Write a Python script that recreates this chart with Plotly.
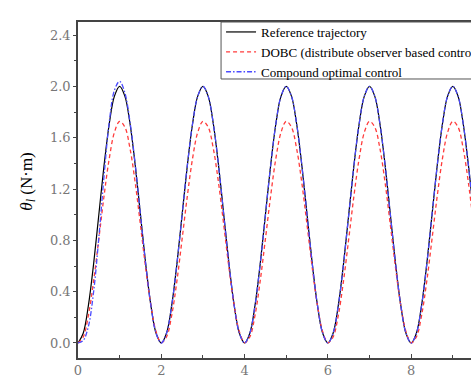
import plotly.graph_objects as go

# time samples (s)
t = [
    0.0, 0.125, 0.25, 0.375, 0.5, 0.625, 0.75, 0.875, 1.0, 1.125, 1.25, 1.375, 1.5, 1.625, 1.75, 1.875,
    2.0, 2.125, 2.25, 2.375, 2.5, 2.625, 2.75, 2.875, 3.0, 3.125, 3.25, 3.375, 3.5, 3.625, 3.75, 3.875,
    4.0, 4.125, 4.25, 4.375, 4.5, 4.625, 4.75, 4.875, 5.0, 5.125, 5.25, 5.375, 5.5, 5.625, 5.75, 5.875,
    6.0, 6.125, 6.25, 6.375, 6.5, 6.625, 6.75, 6.875, 7.0, 7.125, 7.25, 7.375, 7.5, 7.625, 7.75, 7.875,
    8.0, 8.125, 8.25, 8.375, 8.5, 8.625, 8.75, 8.875, 9.0, 9.125, 9.25, 9.375, 9.5,
]

reference = [
    0.0, 0.076, 0.293, 0.617, 1.0, 1.383, 1.707, 1.924, 2.0, 1.924, 1.707, 1.383, 1.0, 0.617, 0.293, 0.076,
    0.0, 0.076, 0.293, 0.617, 1.0, 1.383, 1.707, 1.924, 2.0, 1.924, 1.707, 1.383, 1.0, 0.617, 0.293, 0.076,
    0.0, 0.076, 0.293, 0.617, 1.0, 1.383, 1.707, 1.924, 2.0, 1.924, 1.707, 1.383, 1.0, 0.617, 0.293, 0.076,
    0.0, 0.076, 0.293, 0.617, 1.0, 1.383, 1.707, 1.924, 2.0, 1.924, 1.707, 1.383, 1.0, 0.617, 0.293, 0.076,
    0.0, 0.076, 0.293, 0.617, 1.0, 1.383, 1.707, 1.924, 2.0, 1.924, 1.707, 1.383, 1.0,
]

dobc = [
    0.0, 0.047, 0.216, 0.484, 0.811, 1.145, 1.437, 1.642, 1.728, 1.683, 1.514, 1.246, 0.919, 0.585, 0.293, 0.088,
    0.002, 0.047, 0.216, 0.484, 0.811, 1.145, 1.437, 1.642, 1.728, 1.683, 1.514, 1.246, 0.919, 0.585, 0.293, 0.088,
    0.002, 0.047, 0.216, 0.484, 0.811, 1.145, 1.437, 1.642, 1.728, 1.683, 1.514, 1.246, 0.919, 0.585, 0.293, 0.088,
    0.002, 0.047, 0.216, 0.484, 0.811, 1.145, 1.437, 1.642, 1.728, 1.683, 1.514, 1.246, 0.919, 0.585, 0.293, 0.088,
    0.002, 0.047, 0.216, 0.484, 0.811, 1.145, 1.437, 1.642, 1.728, 1.683, 1.514, 1.246, 0.919,
]

compound = [
    0.0, 0.02, 0.13, 0.40, 0.82, 1.30, 1.72, 1.97, 2.04, 1.95, 1.72, 1.39, 1.0, 0.617, 0.293, 0.076,
    0.0, 0.076, 0.293, 0.617, 1.0, 1.383, 1.707, 1.924, 2.0, 1.924, 1.707, 1.383, 1.0, 0.617, 0.293, 0.076,
    0.0, 0.076, 0.293, 0.617, 1.0, 1.383, 1.707, 1.924, 2.0, 1.924, 1.707, 1.383, 1.0, 0.617, 0.293, 0.076,
    0.0, 0.076, 0.293, 0.617, 1.0, 1.383, 1.707, 1.924, 2.0, 1.924, 1.707, 1.383, 1.0, 0.617, 0.293, 0.076,
    0.0, 0.076, 0.293, 0.617, 1.0, 1.383, 1.707, 1.924, 2.0, 1.924, 1.707, 1.383, 1.0,
]

names = ["Reference trajectory", "DOBC (distribute observer based control)", "Compound optimal control"]
y_title = "<i>θ</i><sub><i>l</i></sub> (N·m)"
x_ticks = [0, 2, 4, 6, 8]
y_ticks = [0.0, 0.4, 0.8, 1.2, 1.6, 2.0, 2.4]

fig = go.Figure()
fig.add_trace(go.Scatter(x=t, y=reference, mode="lines", name=names[0],
                         line=dict(color="#000000", width=1.2, shape="spline")))
fig.add_trace(go.Scatter(x=t, y=dobc, mode="lines", name=names[1],
                         line=dict(color="#ff3b3b", width=1.3, dash="4px,3px", shape="spline")))
fig.add_trace(go.Scatter(x=t, y=compound, mode="lines", name=names[2],
                         line=dict(color="#4a4aff", width=1.3, dash="5px,2px,1.5px,2px", shape="spline")))

axis_font = dict(family="DejaVu Serif", size=13, color="#777777")

fig.update_layout(
    width=471, height=376,
    margin=dict(l=78, r=0, t=22, b=18, autoexpand=False),
    paper_bgcolor="white", plot_bgcolor="white",
    showlegend=True,
    legend=dict(
        x=0.364, y=1.0149, xanchor="left", yanchor="top",
        bgcolor="rgba(0,0,0,0)", borderwidth=0,
        font=dict(family="Liberation Serif", size=13, color="#000000"),
        tracegroupgap=0, itemwidth=30,
    ),
    # legend frame
    shapes=[dict(
        type="rect", xref="paper", yref="paper",
        x0=0.364, x1=1.3, y0=0.8304, y1=1.0,
        line=dict(color="#555555", width=1), fillcolor="white", layer="above",
    )],
    xaxis=dict(
        range=[0, 9.436], tickvals=x_ticks, ticks="inside", ticklen=4, tickwidth=1,
        tickcolor="#444444",
        showline=True, linecolor="#444444", linewidth=1.5, mirror=True,
        showgrid=False, zeroline=False, tickfont=axis_font,
        minor=dict(dtick=1, ticks="inside", ticklen=3, tickcolor="#444444", showgrid=False),
    ),
    yaxis=dict(
        range=[-0.117, 2.502], tickvals=y_ticks, tickformat=".1f",
        ticks="outside", ticklen=3, tickwidth=1, tickcolor="#444444",
        showline=True, linecolor="#444444", linewidth=1.5, mirror=False,
        showgrid=False, zeroline=False, tickfont=axis_font,
        minor=dict(dtick=0.2, tick0=0, ticks="outside", ticklen=2, tickcolor="#444444", showgrid=False),
    ),
    annotations=[dict(
        text=y_title, textangle=-90, xref="paper", yref="paper",
        x=-0.128, y=0.524, xanchor="center", yanchor="middle", showarrow=False,
        font=dict(family="Liberation Serif", size=17, color="#000000"),
    )],
)

fig.write_html("out.html")
